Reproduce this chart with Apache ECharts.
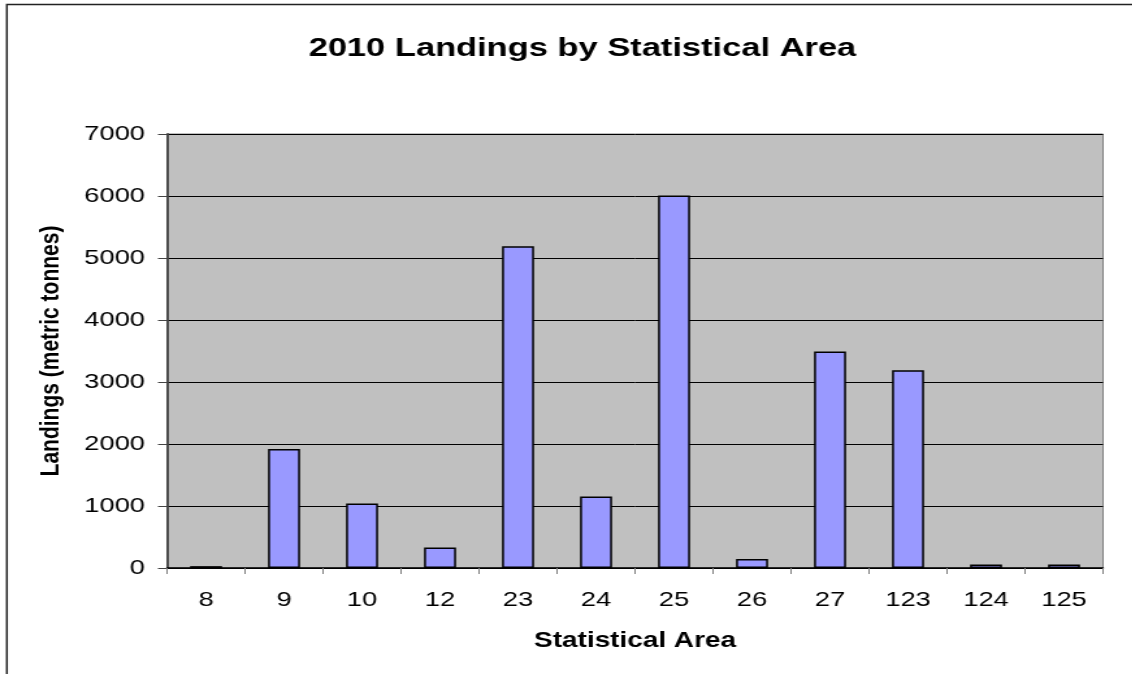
<!DOCTYPE html>
<html>
<head>
<meta charset="utf-8">
<script src="https://cdn.jsdelivr.net/npm/echarts@6/dist/echarts.min.js"></script>
<style>
  html, body { margin: 0; padding: 0; background: #ffffff; overflow: hidden; }
  /* the chart is laid out narrower and widened, giving the broad lettering of the layout */
  #chart { width: 871px; height: 674px; transform: scaleX(1.3); transform-origin: 0 0; }
</style>
</head>
<body>
<div id="chart"></div>
<script>
// Statistical areas and their 2010 landings (metric tonnes)
const areas = ['8', '9', '10', '12', '23', '24', '25', '26', '27', '123', '124', '125'];
const landings = [30, 1920, 1040, 330, 5190, 1155, 6010, 145, 3490, 3190, 55, 55];
const yTicks = [0, 1000, 2000, 3000, 4000, 5000, 6000, 7000];

const FONT = '"Liberation Sans", Arial, sans-serif';

const chart = echarts.init(document.getElementById('chart'), null, { renderer: 'canvas' });

chart.setOption({
  backgroundColor: '#ffffff',
  animation: false,
  title: {
    text: '2010 Landings by Statistical Area',
    left: 443,
    top: 30,
    textAlign: 'center',
    textStyle: { fontFamily: FONT, fontSize: 26.5, fontWeight: 'bold', color: '#000' }
  },
  graphic: [{
    type: 'rect',
    shape: { x: 5.3, y: 4.5, width: 1000, height: 720 },
    style: { fill: 'none', stroke: '#222', lineWidth: 1.5 },
    silent: true
  }],
  grid: {
    left: 128.5, right: 22.5, top: 134, bottom: 106,
    show: true,
    backgroundColor: '#c0c0c0',
    borderColor: '#808080',
    borderWidth: 1
  },
  xAxis: {
    type: 'category',
    data: areas,
    name: 'Statistical Area',
    nameLocation: 'middle',
    nameGap: 62,
    nameTextStyle: { fontFamily: FONT, fontSize: 21.5, fontWeight: 'bold', color: '#000' },
    axisLine: { lineStyle: { color: '#000', width: 1.5 } },
    axisTick: { show: true, length: 6, lineStyle: { color: '#808080', width: 1 } },
    axisLabel: { fontFamily: FONT, fontSize: 21, color: '#000', margin: 22 },
    splitLine: { show: false }
  },
  yAxis: {
    type: 'value',
    min: yTicks[0],
    max: yTicks[yTicks.length - 1],
    interval: yTicks[1] - yTicks[0],
    name: 'Landings (metric tonnes)',
    nameLocation: 'middle',
    nameGap: 79,
    nameRotate: 90,
    nameTextStyle: { fontFamily: FONT, fontSize: 21, fontWeight: 'bold', color: '#000' },
    axisLine: { show: true, lineStyle: { color: '#444', width: 1.8 } },
    axisTick: { show: true, inside: false, length: 7, lineStyle: { color: '#444', width: 1 } },
    axisLabel: {
      fontFamily: FONT, fontSize: 21, color: '#000', margin: 17,
      formatter: v => String(v)
    },
    splitLine: { show: true, lineStyle: { color: '#000', width: 1 } }
  },
  series: [{
    type: 'bar',
    data: landings,
    barWidth: 24.6,
    itemStyle: { color: '#9999ff', borderColor: '#000', borderWidth: 1.5 }
  }]
});
</script>
</body>
</html>
